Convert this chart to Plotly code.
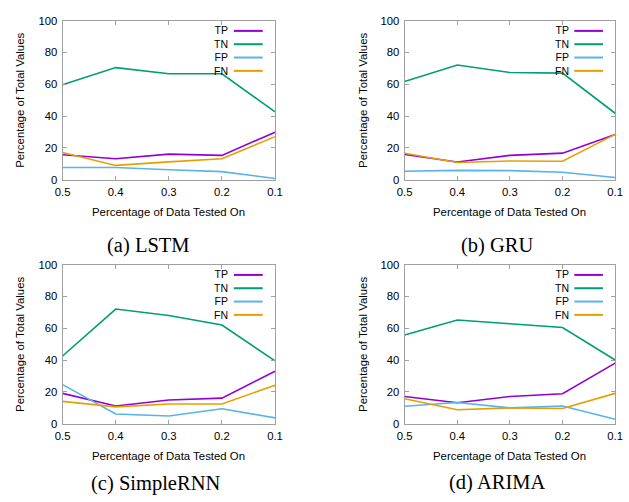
import plotly.graph_objects as go

# Fraction of the data held out for testing (x axis, descending)
test_fraction = [0.5, 0.4, 0.3, 0.2, 0.1]
tick_labels = ["0.5", "0.4", "0.3", "0.2", "0.1"]

# Confusion-matrix shares (% of total values) per model
lstm_tp = [15.7, 13.2, 16.1, 15.3, 29.9]
lstm_tn = [59.7, 70.5, 66.6, 66.6, 42.6]
lstm_fp = [7.7, 7.7, 6.3, 5.1, 0.8]
lstm_fn = [17.1, 9.0, 11.2, 13.2, 27.1]

gru_tp = [15.9, 11.2, 15.3, 16.7, 28.5]
gru_tn = [61.7, 72.1, 67.4, 67.0, 41.8]
gru_fp = [5.3, 5.9, 5.7, 4.7, 1.4]
gru_fn = [16.7, 10.8, 11.8, 11.6, 28.5]

rnn_tp = [19.1, 11.2, 14.9, 16.1, 33.0]
rnn_tn = [42.6, 72.1, 68.0, 62.1, 39.5]
rnn_fp = [24.6, 6.1, 4.9, 9.4, 3.7]
rnn_fn = [14.1, 10.6, 12.4, 12.4, 24.2]

arima_tp = [17.1, 13.2, 17.1, 18.9, 38.1]
arima_tn = [55.8, 65.2, 62.9, 60.5, 40.1]
arima_fp = [11.0, 13.4, 10.0, 11.2, 2.9]
arima_fn = [15.7, 8.8, 10.0, 9.6, 19.1]

series_names = ["TP", "TN", "FP", "FN"]
series_colors = ["#9400d3", "#009e73", "#56b4e9", "#e69f00"]

panels = [
    ("(a) LSTM", [lstm_tp, lstm_tn, lstm_fp, lstm_fn]),
    ("(b) GRU", [gru_tp, gru_tn, gru_fp, gru_fn]),
    ("(c) SimpleRNN", [rnn_tp, rnn_tn, rnn_fp, rnn_fn]),
    ("(d) ARIMA", [arima_tp, arima_tn, arima_fp, arima_fn]),
]

W, H = 629, 502
# plot-area boxes in pixels: (left, right, top, bottom)
boxes = [(56, 274, 15, 178), (407, 623, 15, 178),
         (56, 274, 265, 428), (407, 623, 265, 428)]
caption_pos = [(144, 245), (502, 245), (151, 489), (502, 488)]

SANS = "Liberation Sans, Arial, sans-serif"
SERIF = "Liberation Serif, Times New Roman, serif"
FRAME = "#a0a0a0"

KEY_FONT = 10.5
KEY_STEP = KEY_FONT * 1.3      # plotly line spacing for multi-line text
KEY_FIRST = 10.5               # px below the top edge of the plot area

fig = go.Figure()
layout = dict(
    width=W, height=H,
    margin=dict(l=0, r=0, t=0, b=0),
    paper_bgcolor="white", plot_bgcolor="white",
    showlegend=False,
    font=dict(family=SANS, size=11, color="black"),
)
annotations = []
shapes = []

for i, ((caption, values), box) in enumerate(zip(panels, boxes)):
    n = "" if i == 0 else str(i + 1)
    xa, ya = "x" + n, "y" + n
    left, right, top, bottom = box
    ph = bottom - top
    for name, color, vals in zip(series_names, series_colors, values):
        fig.add_trace(go.Scatter(
            x=test_fraction, y=vals, mode="lines", name=name,
            line=dict(color=color, width=1.6),
            xaxis=xa, yaxis=ya, hoverinfo="x+y+name",
        ))
    layout["xaxis" + n] = dict(
        domain=[left / W, right / W],
        anchor=ya, range=[0.5, 0.1],
        tickvals=test_fraction, ticktext=tick_labels,
        ticks="inside", ticklen=4, tickcolor=FRAME, tickwidth=1,
        showline=True, linecolor=FRAME, linewidth=1, mirror="ticks",
        showgrid=False, zeroline=False,
        tickfont=dict(family=SANS, size=11.3, color="black"),
        ticklabelstandoff=2,
    )
    layout["yaxis" + n] = dict(
        domain=[1 - bottom / H, 1 - top / H],
        anchor=xa, range=[0, 100], dtick=20,
        ticks="inside", ticklen=4, tickcolor=FRAME, tickwidth=1,
        showline=True, linecolor=FRAME, linewidth=1, mirror="ticks",
        showgrid=False, zeroline=False,
        tickfont=dict(family=SANS, size=11.3, color="black"),
        ticklabelstandoff=2,
    )
    # axis titles
    annotations.append(dict(
        text="Percentage of Data Tested On", showarrow=False,
        xref="paper", yref="paper",
        x=(left + right) / 2 / W, y=1 - (bottom + 33) / H,
        xanchor="center", yanchor="middle",
        font=dict(family=SANS, size=11.4, color="black"),
    ))
    annotations.append(dict(
        text="Percentage of Total Values", showarrow=False,
        xref="paper", yref="paper", textangle=-90,
        x=(left - 43) / W, y=1 - (top + bottom) / 2 / H,
        xanchor="center", yanchor="middle",
        font=dict(family=SANS, size=11.4, color="black"),
    ))
    # in-plot key: labels (right-aligned) on the left, line samples on the right
    rows_px = [KEY_FIRST + k * KEY_STEP for k in range(len(series_names))]
    mid_px = (rows_px[0] + rows_px[-1]) / 2
    annotations.append(dict(
        text="<br>".join(series_names), showarrow=False, align="right",
        xref=xa + " domain", yref=ya + " domain",
        x=0.784, y=1 - mid_px / ph, xanchor="right", yanchor="middle",
        borderpad=0,
        font=dict(family=SANS, size=KEY_FONT, color="black"),
    ))
    for color, rp in zip(series_colors, rows_px):
        ky = 1 - rp / ph
        shapes.append(dict(
            type="line", xref=xa + " domain", yref=ya + " domain",
            x0=0.806, x1=0.942, y0=ky, y1=ky,
            line=dict(color=color, width=2),
        ))
    # panel caption
    cx, cy = caption_pos[i]
    annotations.append(dict(
        text=caption, showarrow=False, xref="paper", yref="paper",
        x=cx / W, y=1 - cy / H, xanchor="center", yanchor="middle",
        font=dict(family=SERIF, size=20.5, color="black"),
    ))

layout["annotations"] = annotations
layout["shapes"] = shapes
fig.update_layout(**layout)
fig.write_html("out.html")
